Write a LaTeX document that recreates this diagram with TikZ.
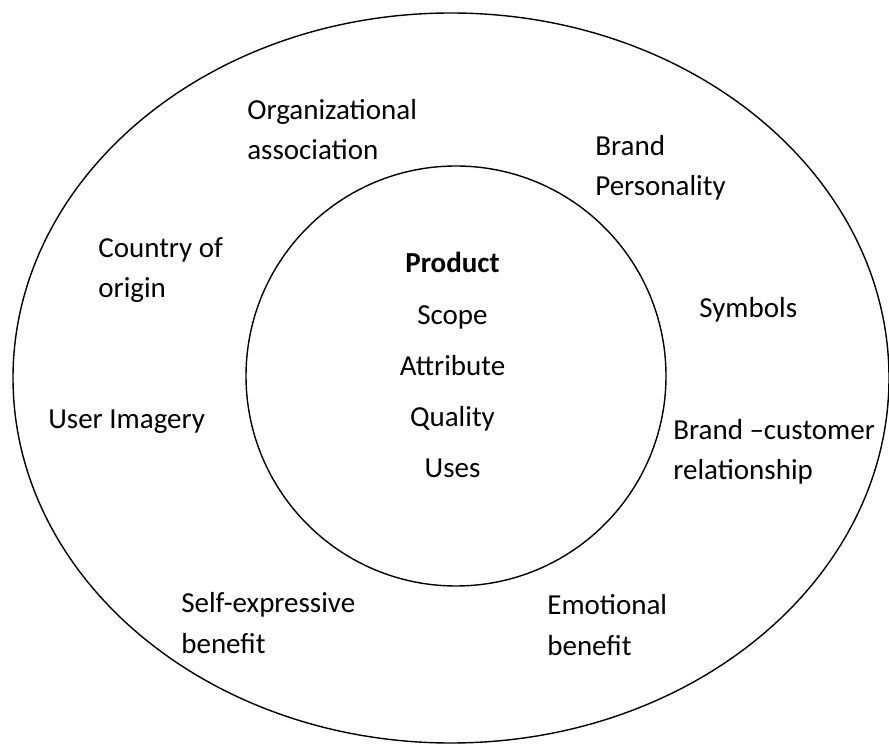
\documentclass[tikz,border=0pt]{standalone}
\usepackage{fontspec}
\setmainfont{Carlito}

\begin{document}
\begin{tikzpicture}[
    every node/.style={inner sep=0pt},
    % base of a multi-line node sits on its last line
    ringtext/.style={anchor=base west, align=left,
      font=\fontsize{16.5}{22.8}\selectfont},
    coretext/.style={anchor=base, align=center,
      font=\fontsize{16.5}{29.2}\selectfont}]
    \useasboundingbox (0,0) rectangle (17.78,14.92);
    % the two rings
    \draw[line width=0.8pt] (9.02,7.36) ellipse [x radius=8.76, y radius=7.30];
    \node[draw, circle, line width=0.8pt, minimum size=8.4cm] (core) at (9.12,7.40) {};
    % centre of the model
    \node[coretext] (product) at (9.05,5.36)
      {\textbf{Product}\\Scope\\Attribute\\Quality\\Uses};
    % the outer ring, clockwise from the top
    \node[ringtext] (org) at (4.94,11.72) {Organizational\\association};
    \node[ringtext] (persona) at (11.90,11.00) {Brand\\Personality};
    \node[ringtext] (symbols) at (13.98,8.56) {Symbols};
    \node[ringtext] (relation) at (13.46,5.32) {Brand –customer\\relationship};
    \node[ringtext] (emotion) at (10.94,1.82) {Emotional\\benefit};
    \node[ringtext] (selfexp) at (3.62,1.86) {Self-expressive\\benefit};
    \node[ringtext] (imagery) at (0.96,6.34) {User Imagery};
    \node[ringtext] (country) at (1.96,8.96) {Country of\\origin};
  \end{tikzpicture}
\end{document}
